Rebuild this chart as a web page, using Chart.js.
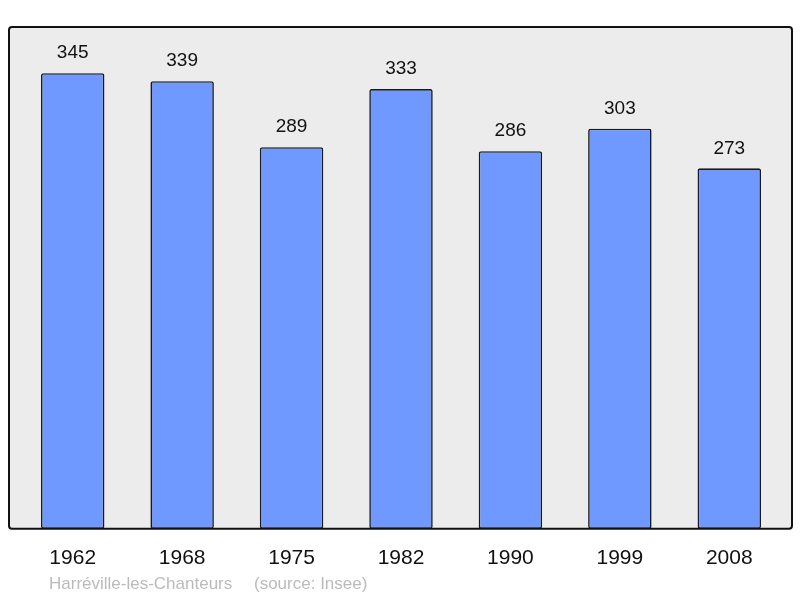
<!DOCTYPE html>
<html>
<head>
<meta charset="utf-8">
<script src="https://cdn.jsdelivr.net/npm/chart.js@4"></script>
<style>
  html, body { margin: 0; padding: 0; background: #fff; }
  #wrap { width: 800px; height: 598px; }
</style>
</head>
<body>
<div id="wrap"><canvas id="pop"></canvas></div>
<script>
// Données population (Insee)
const annees = ['1962', '1968', '1975', '1982', '1990', '1999', '2008']
const population = [345, 339, 289, 333, 286, 303, 273]
const commune = 'Harréville-les-Chanteurs'
const source = '(source: Insee)'

// Fond gris + cadre noir autour de la zone du graphique
const cadre = {
  id: 'cadre',
  beforeDraw(chart) {
    const { ctx, chartArea: a } = chart
    const x = a.left - 9, y = a.top, w = a.right - a.left + 17, h = a.bottom - a.top
    ctx.save()
    ctx.beginPath()
    ctx.roundRect(x, y, w, h, 3)
    ctx.fillStyle = '#ececec'
    ctx.fill()
    ctx.restore()
  },
  afterDatasetsDraw(chart) {
    const { ctx, chartArea: a } = chart
    const x = a.left - 9, y = a.top, w = a.right - a.left + 17, h = a.bottom - a.top
    ctx.save()
    ctx.beginPath()
    ctx.roundRect(x, y, w, h, 3)
    ctx.lineWidth = 2
    ctx.strokeStyle = '#111'
    ctx.stroke()
    ctx.restore()
  }
}

// Valeurs au-dessus des barres + légende de la source
const etiquettes = {
  id: 'etiquettes',
  afterDraw(chart) {
    const { ctx, chartArea: a } = chart
    ctx.save()
    ctx.font = '19px "Liberation Sans", Arial, sans-serif'
    ctx.fillStyle = '#111'
    ctx.textAlign = 'center'
    ctx.textBaseline = 'middle'
    chart.getDatasetMeta(0).data.forEach((bar, i) => {
      ctx.fillText(population[i], bar.x, bar.y - 20)
    })
    ctx.font = '17px "Liberation Sans", Arial, sans-serif'
    ctx.fillStyle = '#bbbbbb'
    ctx.textAlign = 'left'
    ctx.fillText(commune, a.left + 31, 584)
    ctx.fillText(source, a.left + 236, 584)
    ctx.restore()
  }
}

new Chart(document.getElementById('pop'), {
  type: 'bar',
  data: {
    labels: annees,
    datasets: [{
      data: population,
      backgroundColor: '#7099ff',
      borderColor: '#1a1a1a',
      borderWidth: 1.6,
      borderRadius: 2,
      borderSkipped: false,
      barPercentage: 0.58,
      categoryPercentage: 1
    }]
  },
  options: {
    responsive: true,
    maintainAspectRatio: false,
    animation: false,
    layout: { padding: { top: 27, left: 18, right: 16, bottom: 10 } },
    plugins: {
      legend: { display: false },
      tooltip: { enabled: false }
    },
    scales: {
      x: {
        grid: { display: false, drawTicks: false },
        border: { display: false },
        ticks: {
          padding: 17,
          color: '#111',
          font: { family: '"Liberation Sans", Arial, sans-serif', size: 21 }
        }
      },
      y: {
        display: false,
        min: 0,
        max: 380
      }
    }
  },
  plugins: [cadre, etiquettes]
})
</script>
</body>
</html>
